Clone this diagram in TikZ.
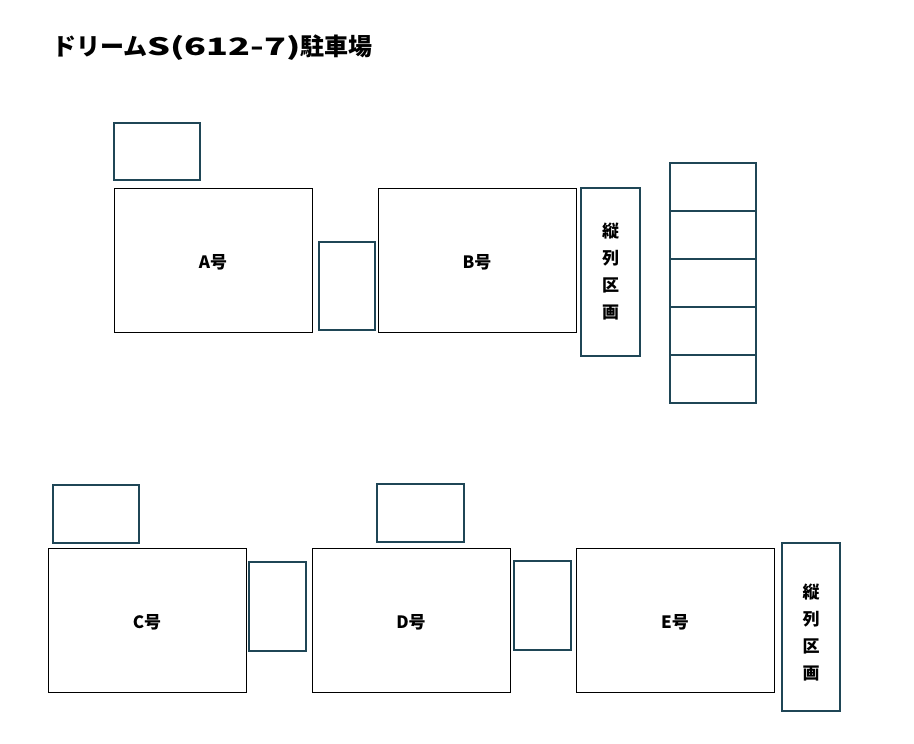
\documentclass[tikz,border=0pt]{standalone}
\usepackage{fontspec}
\setmainfont{Noto Sans CJK JP}
\definecolor{tealb}{HTML}{1F4656}
\begin{document}
\begin{tikzpicture}[x=1pt,y=-1pt,
  lot/.style={draw=black,line width=0.6pt},
  sub/.style={draw=tealb,line width=1.3pt},
  lbl/.style={font=\fontsize{17}{20}\selectfont\bfseries},
  vlbl/.style={font=\fontsize{17}{27}\selectfont\bfseries,align=center}]
\useasboundingbox (0,0) rectangle (914,744);
\node[anchor=west,font=\fontsize{24}{26}\selectfont\bfseries,inner sep=0pt] (title) at (52,48) {ドリーム\scalebox{1.5}[1]{S(612-7)}駐車場};
\draw[sub] (114,123) rectangle (200,180);
\draw[lot] (114,188) rectangle (312,332);
\node[lbl] (A) at (213,262) {A号};
\draw[sub] (319,242) rectangle (375,330);
\draw[lot] (378,188) rectangle (576,332);
\node[lbl] (B) at (477,262) {B号};
\draw[sub] (581,188) rectangle (640,356);
\node[vlbl] (v1) at (610.5,272) {縦\\列\\区\\画};
\foreach \y in {163,211,259,307,355} \draw[sub] (670,\y) rectangle (756,\y+48);
\draw[sub] (53,485) rectangle (139,543);
\draw[lot] (48,548) rectangle (246,692);
\node[lbl] (C) at (147,622) {C号};
\draw[sub] (249,562) rectangle (306,651);
\draw[sub] (377,484) rectangle (464,542);
\draw[lot] (312,548) rectangle (510,692);
\node[lbl] (D) at (411,622) {D号};
\draw[sub] (514,561) rectangle (571,650);
\draw[lot] (576,548) rectangle (774,692);
\node[lbl] (E) at (675,622) {E号};
\draw[sub] (782,543) rectangle (840,711);
\node[vlbl] (v2) at (811,633) {縦\\列\\区\\画};
\end{tikzpicture}
\end{document}
